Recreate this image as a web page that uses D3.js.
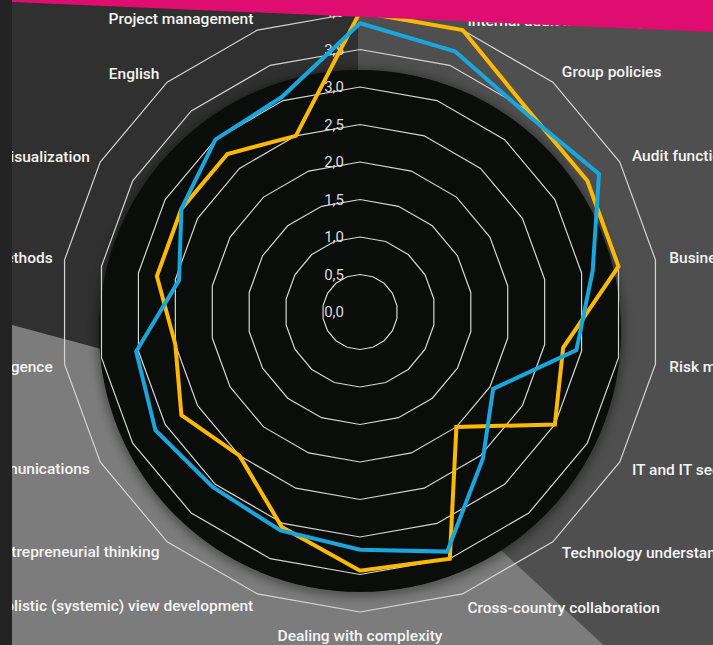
<!DOCTYPE html>
<html>
<head>
<meta charset="utf-8">
<script src="https://cdn.jsdelivr.net/npm/d3@7"></script>
<style>
  html, body { margin: 0; padding: 0; background: #232323; }
  svg { display: block; }
</style>
</head>
<body>
<div id="chart"></div>
<script>
// axes, clockwise from the top
const categories = [
  "Accounting and finance", "Internal audit methodology", "Group policies", "Audit function",
  "Business understanding", "Risk management", "IT and IT security", "Technology understanding",
  "Cross-country collaboration", "Dealing with complexity", "Holistic (systemic) view development",
  "Entrepreneurial thinking", "Communications", "Emotional intelligence", "Analytical methods",
  "Data visualization", "English", "Project management"
];
// yellow series
const yellowValues = [4.0, 4.0, 3.5, 3.5, 3.5, 2.75, 3.0, 2.0, 3.5, 3.45, 3.05, 2.5, 2.75, 2.5, 2.75, 2.75, 2.75, 2.5];
// blue series
const blueValues = [3.85, 3.7, 3.45, 3.68, 3.15, 2.93, 2.05, 2.55, 3.4, 3.17, 3.1, 3.05, 3.15, 3.03, 2.45, 2.75, 3.0, 3.05];
const ticks = [0, 0.5, 1, 1.5, 2, 2.5, 3, 3.5, 4];
const tickLabels = ["0,0", "0,5", "1,0", "1,5", "2,0", "2,5", "3,0", "3,5", "4,0"];

const width = 713, height = 645;
const cx = 360, cy = 312;

const svg = d3.select("#chart").append("svg")
  .attr("width", width)
  .attr("height", height);

const defs = svg.append("defs");
defs.append("clipPath").attr("id", "panel")
  .append("rect").attr("x", 12).attr("y", 0).attr("width", width - 12).attr("height", height);
const blur = defs.append("filter").attr("id", "soft")
  .attr("x", "-20%").attr("y", "-20%").attr("width", "140%").attr("height", "140%");
blur.append("feGaussianBlur").attr("stdDeviation", 5);

const panel = svg.append("g").attr("clip-path", "url(#panel)");

// background faces meeting at one corner
const apex = [358, 418];
panel.append("rect").attr("x", 0).attr("y", 0).attr("width", width).attr("height", height).attr("fill", "#2f302f");
panel.append("path").attr("fill", "#4f4f4f")
  .attr("d", `M${apex[0]},0 L${width},0 L${width},${height} L${apex[0]},${height}Z`);
panel.append("path").attr("fill", "#7c7c7c")
  .attr("d", `M${apex[0]},${apex[1]} L0,${apex[1] - 0.269 * apex[0]} L0,${height} L${apex[0] + 227 / 0.925},${height}Z`);

// black disc
panel.append("circle").attr("cx", cx).attr("cy", 333).attr("r", 264)
  .attr("fill", "#000").attr("opacity", 0.35).attr("filter", "url(#soft)");
panel.append("circle").attr("cx", cx).attr("cy", 331).attr("r", 261).attr("fill", "#0b0d0b");

const r = d3.scaleLinear().domain([0, 4]).range([0, 300]);
const angle = d3.scaleLinear().domain([0, categories.length]).range([0, 2 * Math.PI]);

const g = panel.append("g").attr("transform", `translate(${cx},${cy})`);

// grid rings
const ring = d3.lineRadial()
  .angle((d, i) => angle(i))
  .radius(d => r(d))
  .curve(d3.curveLinearClosed);

g.selectAll("path.ring").data(ticks.filter(t => t > 0))
  .enter().append("path")
  .attr("class", "ring")
  .attr("d", t => ring(categories.map(() => t)))
  .attr("fill", "none")
  .attr("stroke", "#d4d4d4")
  .attr("stroke-width", 1.2);

g.selectAll("text.tick").data(ticks)
  .enter().append("text")
  .attr("class", "tick")
  .attr("x", -16)
  .attr("y", t => -r(t))
  .attr("dy", "0.36em")
  .attr("text-anchor", "end")
  .attr("fill", "#dcdcdc")
  .style("font", "400 15px Roboto, 'DejaVu Sans', sans-serif")
  .text((t, i) => tickLabels[i]);

// series
const line = d3.lineRadial()
  .angle((d, i) => angle(i))
  .radius(d => r(d))
  .curve(d3.curveLinearClosed);

g.append("path").datum(yellowValues)
  .attr("d", line)
  .attr("fill", "none")
  .attr("stroke", "#fbb900")
  .attr("stroke-width", 4)
  .attr("stroke-linejoin", "miter");

g.append("path").datum(blueValues)
  .attr("d", line)
  .attr("fill", "none")
  .attr("stroke", "#18a6dc")
  .attr("stroke-width", 4)
  .attr("stroke-linejoin", "miter");

// axis labels (the top one sits under the magenta band)
const labelR = i => i === 0 ? 330 : (Math.sin(angle(i)) < 0 ? 312 : 314);
const labelShift = i => i === 9 ? 9 : (i === 1 ? 3 : 0);
g.selectAll("text.axis").data(categories)
  .enter().append("text")
  .attr("class", "axis")
  .attr("x", (d, i) => labelR(i) * Math.sin(angle(i)))
  .attr("y", (d, i) => -labelR(i) * Math.cos(angle(i)) + labelShift(i))
  .attr("dy", "0.36em")
  .attr("text-anchor", (d, i) => {
    const s = Math.sin(angle(i));
    return Math.abs(s) < 0.01 ? "middle" : (s > 0 ? "start" : "end");
  })
  .attr("fill", "#f4f4f4")
  .style("font", "500 15.5px Roboto, 'DejaVu Sans', sans-serif")
  .text(d => d);

// magenta band on top
svg.append("path").attr("fill", "#e00d70")
  .attr("d", `M12,0 L${width},0 L${width},32 L12,2Z`);
</script>
</body>
</html>
